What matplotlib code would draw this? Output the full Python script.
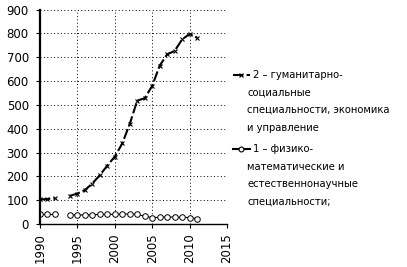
import numpy as np
import matplotlib
matplotlib.use("Agg")
import matplotlib.pyplot as plt
from matplotlib.lines import Line2D

# thousands of graduates by year (1993 not reported)
years = [1990, 1991, 1992, 1993, 1994, 1995, 1996, 1997, 1998, 1999, 2000,
         2001, 2002, 2003, 2004, 2005, 2006, 2007, 2008, 2009, 2010, 2011]
humanities = [103, 105, 108, np.nan, 118, 128, 142, 170, 205, 245, 283,
              338, 420, 518, 528, 580, 665, 712, 727, 775, 798, 782]
sciences = [40, 40, 40, np.nan, 38, 38, 38, 39, 40, 40, 41,
            42, 42, 40, 33, 27, 28, 30, 29, 28, 27, 22]

label2 = ["2 – гуманитарно-", "социальные",
          "специальности, экономика", "и управление"]
label1 = ["1 – физико-", "математические и",
          "естественнонаучные", "специальности;"]

plt.rcParams["font.family"] = ["DejaVu Sans"]
fig = plt.figure(figsize=(4.07, 2.67), dpi=100)
ax = fig.add_axes([0.098, 0.161, 0.46, 0.803])

ax.plot(years, humanities, color="black", lw=1.5, ls=(0, (5, 1.5)),
        marker="x", ms=3.5, mew=0.8)
ax.plot(years, sciences, color="black", lw=0.8, marker="o", ms=4,
        mfc="white", mew=0.7)

ax.set_xlim(1990, 2015)
ax.set_ylim(0, 900)
ax.set_xticks(range(1990, 2016, 5))
ax.set_yticks(range(0, 901, 100))
ax.grid(True, ls=(0, (1, 2.5)), color="black", lw=0.7)
for s in ["top", "right"]:
    ax.spines[s].set_visible(False)
ax.spines["left"].set_linewidth(1.6)
ax.spines["bottom"].set_linewidth(1.0)
ax.tick_params(axis="x", labelrotation=90, labelsize=8.5, length=3)
ax.tick_params(axis="y", labelsize=8.5, length=3, pad=5)

# legend, drawn by hand so the key sits on the first text line
fs = 7.2
for y0, lines, mk, ls in [(0.72, label2, "x", (0, (5, 1.5))),
                          (0.442, label1, "o", "-")]:
    fig.add_artist(Line2D([0.572, 0.614], [y0, y0], color="black", lw=1.5,
                          ls=ls, transform=fig.transFigure))
    fig.add_artist(Line2D([0.593], [y0], color="black", marker=mk, ms=3.5,
                          mfc="white", mew=0.8, transform=fig.transFigure))
    fig.text(0.622, y0, lines[0], fontsize=fs, va="center")
    for i, t in enumerate(lines[1:], 1):
        fig.text(0.607, y0 - i * 0.066, t, fontsize=fs, va="center")

fig.savefig("out.png", dpi=100)
